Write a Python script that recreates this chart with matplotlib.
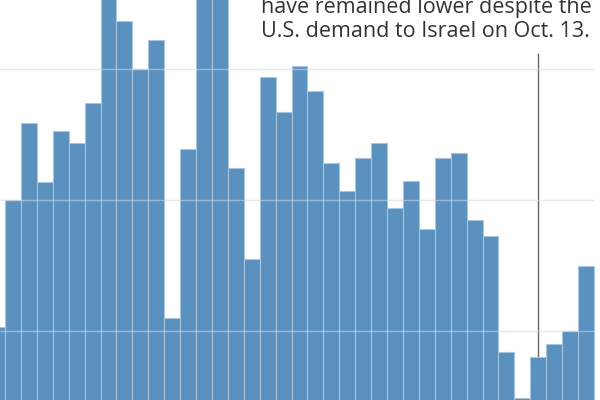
import matplotlib
matplotlib.use("Agg")
import matplotlib.pyplot as plt

# weekly values (arbitrary units, gridlines every 50)
values = [51.5, 100.0, 129.4, 106.9, 126.3, 121.8, 137.0, 185.0, 168.3, 150.0,
          161.1, 55.0, 119.5, 185.0, 190.0, 112.2, 77.5, 147.0, 133.6, 151.1,
          141.6, 114.1, 103.4, 116.0, 121.8, 97.0, 107.3, 88.9, 116.0, 117.9,
          92.4, 86.3, 42.0, 24.4, 40.1, 45.0, 50.0, 74.8]
grid_levels = [50, 100, 150]
marker_index = 34  # Oct. 13
marker_top = 156
note_lines = ["have remained lower despite the",
              "U.S. demand to Israel on Oct. 13."]

fig = plt.figure(figsize=(6, 4), dpi=100)
ax = fig.add_axes([0, 0, 1, 1])

xs = list(range(len(values)))
ax.bar(xs, values, width=1.0, color="#5b91bf", edgecolor="#a8c5df",
       linewidth=0.8, zorder=2)

ax.vlines(marker_index, 0, marker_top, color="#666666", linewidth=1.0, zorder=1)

for g in grid_levels:
    ax.hlines(g, -1, len(values) - 0.5, color="#d8d8d8", linewidth=1.0,
              alpha=0.55, zorder=3)

ax.set_xlim(0.186, 37.877)
ax.set_ylim(23.7, 176.3)
ax.axis("off")

for k, line in enumerate(note_lines):
    fig.text(261 / 600, 1 - (13 + 24 * k) / 400, line, fontsize=15.5,
             family="Open Sans", color="#333333", va="baseline", ha="left")

fig.savefig("out.png", dpi=100)
